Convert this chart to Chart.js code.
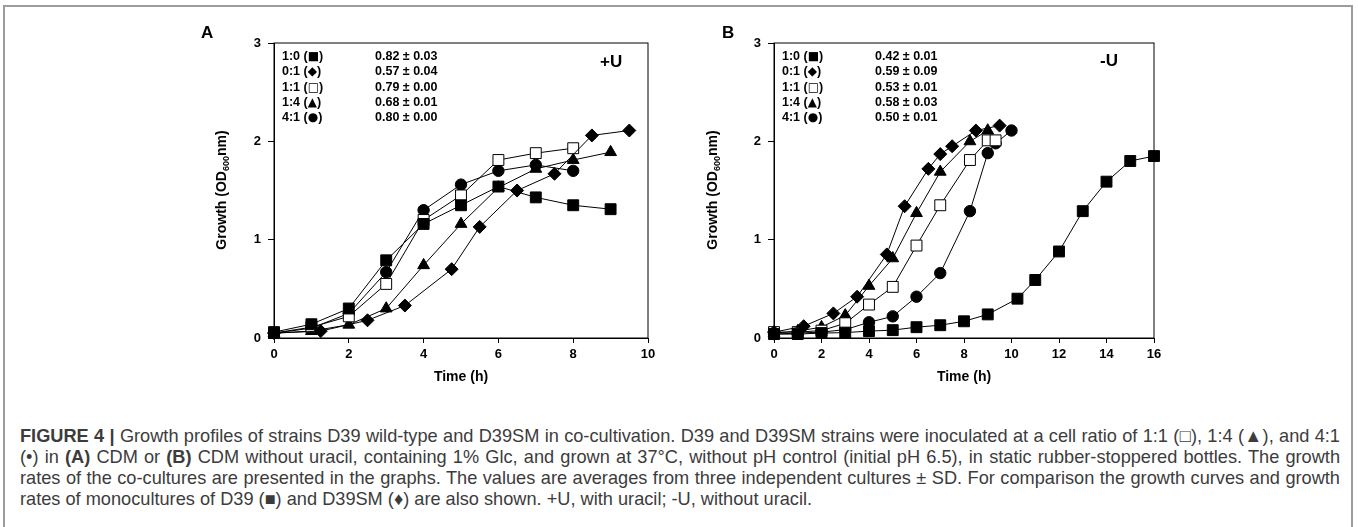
<!DOCTYPE html>
<html>
<head>
<meta charset="utf-8">
<script src="https://cdn.jsdelivr.net/npm/chart.js@4.4.1/dist/chart.umd.min.js"></script>
<style>
  html, body { margin: 0; padding: 0; background: #fff; width: 1358px; height: 527px; overflow: hidden; }
  body { position: relative; font-family: "Liberation Sans", Arial, sans-serif; }
  .frame { position: absolute; left: 3px; top: 5px; width: 1350px; height: 600px; border: 2px solid #9c9c9c; box-sizing: border-box; }
  canvas { position: absolute; }
  .abs { position: absolute; white-space: nowrap; color: #000; }
  .panel { font-weight: bold; font-size: 17px; }
  .ytitle { font-weight: bold; font-size: 14px; transform: translate(-50%, -50%) rotate(-90deg); }
  .ytitle sub { font-size: 9px; }
  .leg { font-weight: bold; font-size: 12.5px; line-height: 15.25px; }
  .leg .sym { font-family: "DejaVu Sans", sans-serif; font-size: 12px; }
  .tag { font-weight: bold; font-size: 17px; }
  .caption { position: absolute; left: 20px; top: 426px; width: 1320px; font-size: 18.2px; line-height: 21px; color: #3c3c3c; }
  .caption div { white-space: nowrap; text-align: justify; text-align-last: justify; }
  .caption div.last { text-align-last: left; }
</style>
</head>
<body>
<div class="frame"></div>

<canvas id="chartA" width="500" height="380" style="left:180px;top:10px;width:500px;height:380px"></canvas>
<canvas id="chartB" width="500" height="380" style="left:690px;top:10px;width:500px;height:380px"></canvas>

<div class="abs panel" style="left:201px;top:23px">A</div>
<div class="abs panel" style="left:722px;top:23px">B</div>

<div class="abs ytitle" style="left:222px;top:190px">Growth (OD<sub>600</sub>nm)</div>
<div class="abs ytitle" style="left:713px;top:190px">Growth (OD<sub>600</sub>nm)</div>

<div class="abs leg" id="legA1" style="left:282px;top:49px"></div>
<div class="abs leg" id="legA2" style="left:375px;top:49px"></div>
<div class="abs tag" style="left:600px;top:52px">+U</div>

<div class="abs leg" id="legB1" style="left:782px;top:49px"></div>
<div class="abs leg" id="legB2" style="left:875px;top:49px"></div>
<div class="abs tag" style="left:1100px;top:51px">-U</div>

<div class="caption">
  <div><b>FIGURE 4 |</b> Growth profiles of strains D39 wild-type and D39SM in co-cultivation. D39 and D39SM strains were inoculated at a cell ratio of 1:1 (□), 1:4 (▲), and 4:1</div>
  <div>(•) in <b>(A)</b> CDM or <b>(B)</b> CDM without uracil, containing 1% Glc, and grown at 37°C, without pH control (initial pH 6.5), in static rubber-stoppered bottles. The growth</div>
  <div>rates of the co-cultures are presented in the graphs. The values are averages from three independent cultures ± SD. For comparison the growth curves and growth</div>
  <div class="last">rates of monocultures of D39 (■) and D39SM (♦) are also shown. +U, with uracil; -U, without uracil.</div>
</div>

<script>
// Verhältnis D39:D39SM, Symbole und Wachstumsraten (aus der Abbildung)
const ratioLabels = ['1:0', '0:1', '1:1', '1:4', '4:1'];
const ratioSymbols = ['■', '◆', '□', '▲', '●'];
const ratesA = ['0.82 ± 0.03', '0.57 ± 0.04', '0.79 ± 0.00', '0.68 ± 0.01', '0.80 ± 0.00'];
const ratesB = ['0.42 ± 0.01', '0.59 ± 0.09', '0.53 ± 0.01', '0.58 ± 0.03', '0.50 ± 0.01'];

// Achsen
const yTicks = [0, 1, 2, 3];
const xMaxA = 10;
const xMaxB = 16;

// Panel A (+U): Zeit (h) und OD600
const timeA_10 = [0, 1, 2, 3, 4, 5, 6, 7, 8, 9];
const odA_10   = [0.06, 0.14, 0.30, 0.79, 1.16, 1.35, 1.54, 1.43, 1.35, 1.31];
const timeA_01 = [0, 1.25, 2.5, 3.5, 4.75, 5.5, 6.5, 7.5, 8.5, 9.5];
const odA_01   = [0.05, 0.07, 0.18, 0.33, 0.70, 1.13, 1.50, 1.67, 2.06, 2.11];
const timeA_11 = [0, 1, 2, 3, 4, 5, 6, 7, 8];
const odA_11   = [0.05, 0.11, 0.22, 0.55, 1.20, 1.45, 1.81, 1.88, 1.93];
const timeA_14 = [0, 1, 2, 3, 4, 5, 6, 7, 8, 9];
const odA_14   = [0.05, 0.07, 0.135, 0.30, 0.74, 1.16, 1.53, 1.72, 1.81, 1.89];
const timeA_41 = [0, 1, 2, 3, 4, 5, 6, 7, 8];
const odA_41   = [0.05, 0.10, 0.25, 0.67, 1.30, 1.56, 1.70, 1.76, 1.70];

// Panel B (-U)
const timeB_10 = [0, 1, 2, 3, 4, 5, 6, 7, 8, 9, 10.25, 11, 12, 13, 14, 15, 16];
const odB_10   = [0.04, 0.04, 0.05, 0.055, 0.07, 0.08, 0.11, 0.13, 0.17, 0.24, 0.40, 0.59, 0.88, 1.29, 1.59, 1.80, 1.85];
const timeB_01 = [0, 1.25, 2.5, 3.5, 4.75, 5.5, 6.5, 7, 7.5, 8.5, 9.5];
const odB_01   = [0.06, 0.12, 0.25, 0.42, 0.85, 1.34, 1.72, 1.87, 1.95, 2.11, 2.16];
const timeB_11 = [0, 1, 2, 3, 4, 5, 6, 7, 8.25, 9, 9.33];
const odB_11   = [0.06, 0.06, 0.075, 0.15, 0.34, 0.52, 0.94, 1.35, 1.81, 2.01, 2.01];
const timeB_14 = [0, 1, 2, 3, 4, 5, 6, 7, 8.25, 9];
const odB_14   = [0.05, 0.07, 0.11, 0.23, 0.53, 0.81, 1.27, 1.69, 2.00, 2.11];
const timeB_41 = [0, 1, 2, 3, 4, 5, 6, 7, 8.25, 9, 9.33, 10];
const odB_41   = [0.04, 0.05, 0.06, 0.085, 0.16, 0.22, 0.42, 0.66, 1.29, 1.88, 1.98, 2.11];

// Legendentexte einsetzen
const legendLines = ratioLabels.map((r, i) => `${r} (<span class="sym">${ratioSymbols[i]}</span>)`);
document.getElementById('legA1').innerHTML = legendLines.join('<br>');
document.getElementById('legA2').innerHTML = ratesA.join('<br>');
document.getElementById('legB1').innerHTML = legendLines.join('<br>');
document.getElementById('legB2').innerHTML = ratesB.join('<br>');

Chart.defaults.font.family = '"Liberation Sans", Arial, sans-serif';
Chart.defaults.color = '#000';

function toPoints(xs, ys) {
    return xs.map((x, i) => ({ x: x, y: ys[i] }));
}

// Markerstile je Verhältnis
function series(label, xs, ys, style, radius, fill) {
    return {
        label: label,
        data: toPoints(xs, ys),
        borderColor: '#000',
        borderWidth: 1,
        pointStyle: style,
        pointRadius: radius,
        pointBackgroundColor: fill,
        pointBorderColor: '#000',
        pointBorderWidth: 1,
        tension: 0,
        clip: false
    };
}

// Rahmen um den Plotbereich
const boxPlugin = {
    id: 'box',
    beforeDatasetsDraw(chart) {
        const a = chart.chartArea;
        const c = chart.ctx;
        c.save();
        c.strokeStyle = '#000';
        c.lineWidth = 1;
        c.strokeRect(a.left, a.top, a.right - a.left, a.bottom - a.top);
        c.restore();
    }
};

function makeChart(id, datasets, xMax, yWidth, padRight) {
    return new Chart(document.getElementById(id), {
        type: 'line',
        data: { datasets: datasets },
        options: {
            responsive: false,
            animation: false,
            layout: { padding: { top: 33, right: padRight, left: 0, bottom: 0 } },
            plugins: { legend: { display: false }, tooltip: { enabled: false } },
            scales: {
                x: {
                    type: 'linear',
                    min: 0,
                    max: xMax,
                    afterFit: s => { s.height = 52; },
                    grid: { drawOnChartArea: false, color: '#000', tickLength: 5 },
                    border: { color: '#000', width: 1 },
                    ticks: { stepSize: 2, padding: 4, font: { size: 13, weight: 'bold' } },
                    title: { display: true, text: 'Time (h)', font: { size: 14, weight: 'bold' } }
                },
                y: {
                    min: 0,
                    max: 3,
                    afterFit: s => { s.width = yWidth; },
                    afterBuildTicks: s => { s.ticks = yTicks.map(v => ({ value: v })); },
                    grid: { drawOnChartArea: false, color: '#000', tickLength: 6 },
                    border: { color: '#000', width: 1 },
                    ticks: { padding: 7, font: { size: 13, weight: 'bold' } }
                }
            }
        },
        plugins: [boxPlugin]
    });
}

const dsA = [
    series('1:0', timeA_10, odA_10, 'rect', 7.7, '#000'),
    series('0:1', timeA_01, odA_01, 'rectRot', 6.5, '#000'),
    series('1:1', timeA_11, odA_11, 'rect', 7.7, '#fff'),
    series('1:4', timeA_14, odA_14, 'triangle', 6.8, '#000'),
    series('4:1', timeA_41, odA_41, 'circle', 5.7, '#000')
];
const dsB = [
    series('1:0', timeB_10, odB_10, 'rect', 7.7, '#000'),
    series('0:1', timeB_01, odB_01, 'rectRot', 6.5, '#000'),
    series('1:1', timeB_11, odB_11, 'rect', 7.7, '#fff'),
    series('1:4', timeB_14, odB_14, 'triangle', 6.8, '#000'),
    series('4:1', timeB_41, odB_41, 'circle', 5.7, '#000')
];

makeChart('chartA', dsA, xMaxA, 94, 32);
makeChart('chartB', dsB, xMaxB, 84, 36);
</script>
</body>
</html>
